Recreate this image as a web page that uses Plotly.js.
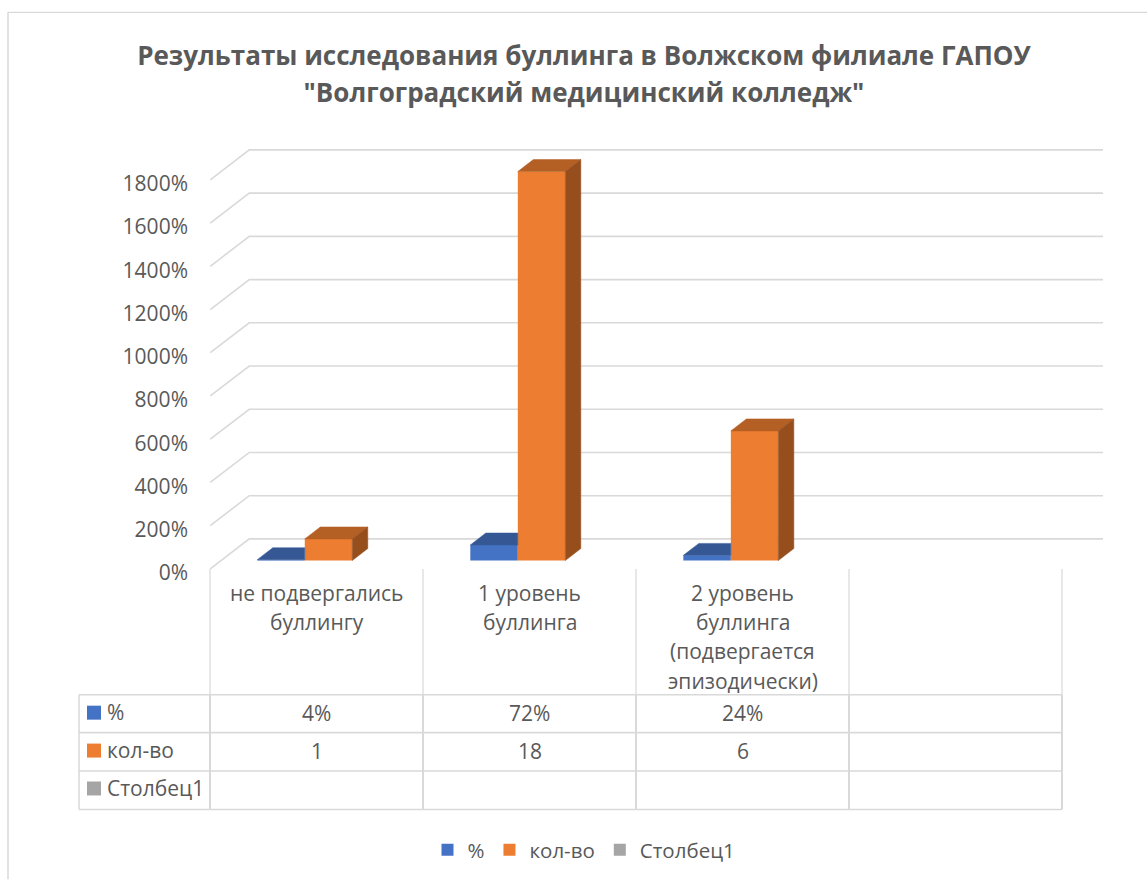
<!DOCTYPE html>
<html><head><meta charset="utf-8">
<script src="https://cdn.plot.ly/plotly-3.0.1.min.js"></script>
<style>html,body{margin:0;padding:0;background:#fff}#c{width:1147px;height:881px}</style>
</head><body><div id="c"></div>
<script>
const titleLines = ['Результаты исследования буллинга в Волжском филиале ГАПОУ','"Волгоградский медицинский колледж"'];
const categoryLines = [['не подвергались','буллингу'],['1 уровень','буллинга'],['2 уровень','буллинга','(подвергается','эпизодически)']];
const slots = [0.5,1.5,2.5];
const percent = [0.04,0.72,0.24];
const count = [1,18,6];
const column1 = [null,null,null];
const percentLabels = ['4%','72%','24%'];
const countLabels = ['1','18','6'];
const yTicks = [0,2,4,6,8,10,12,14,16,18];
const seriesNames = ['%','кол-во','Столбец1'];
const seriesColors = ['#4472C4','#ED7D31','#A5A5A5'];

const W=1147,H=881,L=206,R=1105,T=147,B=572;
const xr=[-0.02,4.2], yr=[-0.1,19.52];
const pxX=(R-L)/(xr[1]-xr[0]), pxY=(B-T)/(yr[1]-yr[0]);
const px=x=>(x-L)/(R-L), py=y=>(B-y)/(B-T);
const FONT='"Open Sans", sans-serif', TXT='#595959', GRID='#d9d9d9';

// 3D geometry in axis units
const wallDx=39/pxX, wallDy=30/pxY;
const barW=47.5/pxX, barShift=12/pxX, barBase=8.3/pxY, barDx=15.5/pxX, barDy=12/pxY;

const shapes=[];
yTicks.forEach(v=>shapes.push({type:'path',layer:'below',xref:'x',yref:'y',
  path:`M 0 ${v} L ${wallDx} ${v+wallDy} L ${(1103-L)/pxX+xr[0]} ${v+wallDy}`,line:{color:GRID,width:1.6}}));
const pl=(x0,y0,x1,y1,w)=>shapes.push({type:'line',xref:'paper',yref:'paper',x0:px(x0),x1:px(x1),y0:py(y0),y1:py(y1),line:{color:GRID,width:w}});
[210,423,636,849,1062].forEach(x=>{pl(x,570,x,696,1.2);pl(x,696,x,811,2);});
pl(79,696,79,811,1.5);
[696,734,772.5,811].forEach(y=>pl(79,y,1062,y,1.6));
pl(8,12,8,881,1.5); pl(8,12,1147,12,1.2);
[714,752,790].forEach((y,i)=>shapes.push({type:'rect',xref:'paper',yref:'paper',x0:px(87),x1:px(101),y0:py(y-7),y1:py(y+7),fillcolor:seriesColors[i],line:{width:0}}));

const annotations=[];
const ann=(o)=>annotations.push(Object.assign({showarrow:false,font:{family:FONT,size:21,color:TXT},yanchor:'middle'},o));
categoryLines.forEach((ls,i)=>ls.forEach((t,j)=>ann({text:t,xref:'x',x:slots[i],xanchor:'center',yref:'paper',y:py(594+j*29.3)})));
percentLabels.forEach((t,i)=>ann({text:t,xref:'x',x:slots[i],xanchor:'center',yref:'paper',y:py(714.5)}));
countLabels.forEach((t,i)=>ann({text:t,xref:'x',x:slots[i],xanchor:'center',yref:'paper',y:py(752.5)}));
seriesNames.forEach((t,i)=>ann({text:t,xref:'paper',x:px(105),xanchor:'left',yref:'paper',y:py(713.5+i*38.2)}));

function poly(xs,ys,color){return {type:'scatter',mode:'lines',x:xs,y:ys,fill:'toself',fillcolor:color,line:{width:0.5,color:color},hoverinfo:'skip',showlegend:false};}

const traces=[];
const bar=(i,vals,off)=>({type:'bar',name:seriesNames[i],x:slots,y:vals,base:barBase,width:barW,offset:off,marker:{color:seriesColors[i],line:{width:0}}});
const blueOff=-barShift-barW, orangeOff=-barShift;
traces.push(bar(0,percent,blueOff), bar(1,count,orangeOff), bar(2,column1,orangeOff+barW));
slots.forEach((s,i)=>{
  const l=s+blueOff,r=l+barW,t=percent[i]+barBase;
  traces.push(poly([l,l+barDx,r,r,l],[t,t+barDy,t+barDy,t,t],'#355895'));
});
slots.forEach((s,i)=>{
  const l=s+orangeOff,r=l+barW,t=count[i]+barBase;
  traces.push(poly([l,l+barDx,r+barDx,r,l],[t,t+barDy,t+barDy,t,t],'#B45F23'));
  traces.push(poly([r,r+barDx,r+barDx,r,r],[t,t+barDy,barBase+barDy,barBase,t],'#964E1C'));
});

const layout={
  width:W,height:H,autosize:false,paper_bgcolor:'#fff',plot_bgcolor:'rgba(0,0,0,0)',
  margin:{l:L,r:W-R,t:T,b:H-B,pad:0},
  title:{text:titleLines.map(t=>'<span style="font-size:26px">'+t+'</span>').join('<br>'),font:{family:FONT,size:29,color:TXT,weight:'bold'},x:584/W,xanchor:'center',xref:'container',y:1-64.5/H,yanchor:'middle',yref:'container'},
  barmode:'overlay',showlegend:true,hovermode:false,
  legend:{orientation:'h',x:px(584),xanchor:'center',y:py(850),yanchor:'middle',font:{family:FONT,size:20.5,color:TXT},bgcolor:'rgba(0,0,0,0)'},
  xaxis:{range:xr,type:'linear',showgrid:false,zeroline:false,showline:false,showticklabels:false,ticks:'',fixedrange:true},
  yaxis:{range:yr,type:'linear',tickvals:yTicks,tickformat:'.0%',showgrid:false,zeroline:false,showline:false,ticks:'',
    ticklabelstandoff:17,ticklabelshift:4,tickfont:{family:FONT,size:21,color:TXT},fixedrange:true},
  shapes,annotations
};
Plotly.newPlot('c',traces,layout,{displayModeBar:false,staticPlot:true});
</script></body></html>
